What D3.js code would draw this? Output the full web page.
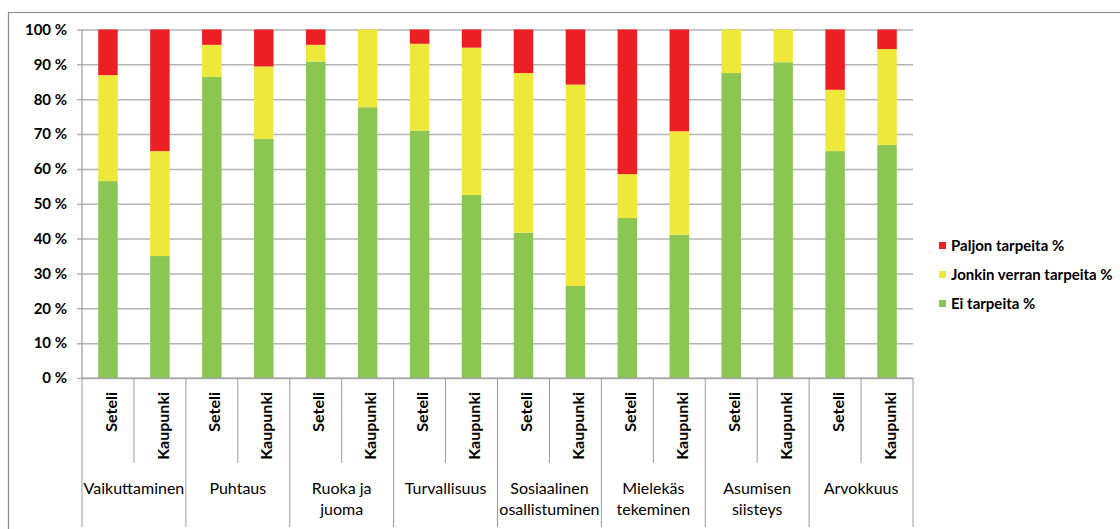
<!DOCTYPE html>
<html>
<head>
<meta charset="utf-8">
<script src="https://cdn.jsdelivr.net/npm/d3@7"></script>
<style>
  html, body { margin: 0; padding: 0; background: #fff; }
  svg { display: block; }
  text { font-family: "Lato", "Open Sans", sans-serif; fill: #000; }
</style>
</head>
<body>
<svg id="chart" width="1120" height="529"></svg>
<script>
// Needs areas (groups) and the two respondent groups compared in each
const groups = ["Vaikuttaminen", "Puhtaus", "Ruoka ja\njuoma", "Turvallisuus",
  "Sosiaalinen\nosallistuminen", "Mielekäs\ntekeminen", "Asumisen\nsiisteys", "Arvokkuus"];
const subgroups = ["Seteli", "Kaupunki"];

// Shares per bar (Seteli, Kaupunki for each area in order), percent
const eiTarpeita      = [56.5, 35.0, 86.4, 68.6, 90.8, 77.7, 71.0, 52.5, 41.7, 26.4, 45.9, 41.1, 87.5, 90.6, 65.1, 66.9];
const jonkinVerran    = [30.4, 30.1,  9.2, 20.8,  4.8, 22.3, 24.9, 42.3, 45.8, 57.8, 12.6, 29.7, 12.5,  9.4, 17.6, 27.5];
const paljonTarpeita  = [13.1, 34.9,  4.4, 10.6,  4.4,  0.0,  4.1,  5.2, 12.5, 15.8, 41.5, 29.2,  0.0,  0.0, 17.3,  5.6];

const seriesNames = ["Ei tarpeita %", "Jonkin verran tarpeita %", "Paljon tarpeita %"];
const seriesColors = ["#8cc652", "#eee83a", "#ec1f24"];
const yTicks = [0, 10, 20, 30, 40, 50, 60, 70, 80, 90, 100];

// Build one row per bar
const rows = [];
groups.forEach((g, gi) => {
  subgroups.forEach((s, si) => {
    const i = gi * 2 + si;
    rows.push({
      id: i, group: g, sub: s,
      [seriesNames[0]]: eiTarpeita[i],
      [seriesNames[1]]: jonkinVerran[i],
      [seriesNames[2]]: paljonTarpeita[i]
    });
  });
});

const svg = d3.select("#chart");
const plot = { left: 82, right: 913, top: 29.5, bottom: 378 };

const x = d3.scaleBand()
  .domain(rows.map(d => d.id))
  .range([plot.left, plot.right])
  .paddingInner(0.625)
  .paddingOuter(0.3125);
const step = x.step();

const y = d3.scaleLinear().domain([0, 100]).range([plot.bottom, plot.top]);
const color = d3.scaleOrdinal().domain(seriesNames).range(seriesColors);

// Outer frame (top and left edges)
svg.append("path")
  .attr("d", "M8.5,529 V12.5 H1120")
  .attr("fill", "none").attr("stroke", "#8a8a8a").attr("stroke-width", 1.2);

// Horizontal gridlines with outward ticks
const yAxis = d3.axisLeft(y).tickValues(yTicks)
  .tickSize(-(plot.right - plot.left)).tickPadding(10)
  .tickFormat(d => d + " %");
const gy = svg.append("g").attr("transform", `translate(${plot.left},0)`).call(yAxis);
gy.select(".domain").remove();
gy.selectAll(".tick line")
  .attr("x1", -5)
  .attr("stroke", "#b4b4b4").attr("stroke-width", 1.5);
gy.selectAll(".tick text")
  .attr("x", -15)
  .style("font-size", "15px").style("font-weight", "bold").attr("fill", "#111");

// Stacked bars
const stack = d3.stack().keys(seriesNames);
const layers = stack(rows);
svg.append("g").selectAll("g")
  .data(layers).join("g")
  .attr("fill", d => color(d.key))
  .selectAll("rect")
  .data(d => d).join("rect")
  .attr("x", d => x(d.data.id))
  .attr("width", x.bandwidth())
  .attr("y", d => y(d[1]))
  .attr("height", d => y(d[0]) - y(d[1]));

// Category axis: baseline, separators and labels
const axisCol = "#9a9a9a";
svg.append("line")
  .attr("x1", plot.left).attr("x2", plot.right)
  .attr("y1", plot.bottom).attr("y2", plot.bottom)
  .attr("stroke", axisCol).attr("stroke-width", 1.2);
svg.append("line")
  .attr("x1", plot.left).attr("x2", plot.left)
  .attr("y1", plot.top).attr("y2", plot.bottom)
  .attr("stroke", axisCol).attr("stroke-width", 1.2);

const sepX = d3.range(rows.length + 1).map(k => plot.left + k * step);
svg.append("g").selectAll("line")
  .data(sepX).join("line")
  .attr("x1", d => d).attr("x2", d => d)
  .attr("y1", plot.bottom)
  .attr("y2", (d, k) => k % 2 === 0 ? 527 : 463)
  .attr("stroke", axisCol).attr("stroke-width", 1);

// Rotated respondent labels
svg.append("g").selectAll("text")
  .data(rows).join("text")
  .attr("transform", d => `translate(${x(d.id) + x.bandwidth() / 2 + 3},392) rotate(-90)`)
  .attr("text-anchor", "end")
  .attr("dy", "0.35em")
  .style("font-size", "16px").style("font-weight", "bold")
  .text(d => d.sub);

// Area labels, centred under each pair
const gl = svg.append("g").selectAll("text")
  .data(groups).join("text")
  .attr("x", (d, i) => plot.left + (i * 2 + 1) * step)
  .attr("y", 494)
  .attr("text-anchor", "middle")
  .style("font-size", "16px");
gl.selectAll("tspan")
  .data(d => d.split("\n")).join("tspan")
  .attr("x", function () { return this.parentNode.getAttribute("x"); })
  .attr("dy", (d, i) => i === 0 ? 0 : 21)
  .text(d => d);

// Legend, top entry is the top layer of the stack
const legendItems = seriesNames.slice().reverse();
const lg = svg.append("g").selectAll("g")
  .data(legendItems).join("g")
  .attr("transform", (d, i) => `translate(939,${242 + i * 29})`);
lg.append("rect").attr("width", 7).attr("height", 7).attr("fill", d => color(d));
lg.append("text")
  .attr("x", 12).attr("y", 3.5).attr("dy", "0.35em")
  .style("font-size", "15px").style("font-weight", "bold")
  .text(d => d);
</script>
</body>
</html>
